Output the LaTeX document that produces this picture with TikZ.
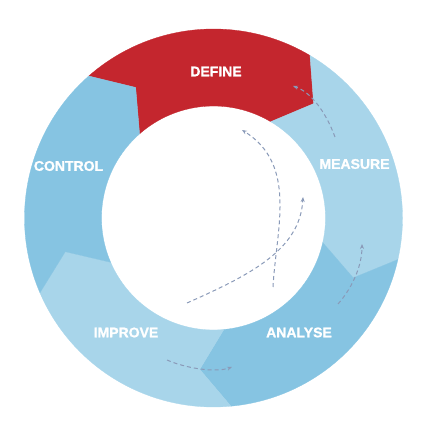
\documentclass[tikz,border=0pt]{standalone}
\usepackage{fontspec}
\setmainfont{Liberation Sans}
\newfontfamily\labelfont[BoldFeatures={FakeBold=1.2}]{Liberation Sans}
\usetikzlibrary{arrows.meta,calc}
\definecolor{defred}{RGB}{196,38,46}
\definecolor{lightblue}{RGB}{168,213,234}
\definecolor{midblue}{RGB}{134,196,226}
\definecolor{dashcol}{RGB}{138,154,184}
\tikzset{
  seglabel/.style={text=white, inner sep=0pt, font=\labelfont\bfseries\fontsize{14}{14}\selectfont},
  flow/.style={draw=dashcol, line width=1pt, dash pattern=on 4pt off 3pt, -{Stealth[length=5pt,width=4pt]}},
}
\begin{document}
\begin{tikzpicture}[x=1pt,y=1pt]
\useasboundingbox (0,0) rectangle (426,438);
\coordinate (C) at (213.5,220);
% segments: start angle a (counterclockwise end), colour
\foreach \a/\col in {131.3/defred, 59.3/lightblue, -12.7/midblue, -84.7/lightblue, -156.7/midblue}{
  \pgfmathsetmacro{\b}{\a-72}
  \pgfmathsetmacro{\bk}{\a-82.5}
  \pgfmathsetmacro{\ak}{\a-10.5}
  \fill[\col, draw=\col, line width=0.3pt]
    ($(C)+(\a:189pt)$) arc[start angle=\a, end angle=\b, radius=189pt]
    -- ($(C)+(\bk:152pt)$) -- ($(C)+(\b:112pt)$)
    arc[start angle=\b, end angle=\a, radius=112pt]
    -- ($(C)+(\ak:152pt)$) -- cycle;
}
% labels
\node[seglabel] (define) at (216,366.5) {DEFINE};
\node[seglabel] (measure) at (354.5,274) {MEASURE};
\node[seglabel] (analyse) at (299,105.5) {ANALYSE};
\node[seglabel] (improve) at (126,105.5) {IMPROVE};
\node[seglabel] (control) at (68.5,272) {CONTROL};
% dashed flow arrows
\coordinate (a0) at (273,151);
\coordinate (a1) at (242,308);
\draw[flow] (a0) .. controls (276,208) and (298,273) .. (a1);
\coordinate (b0) at (187,135);
\coordinate (b1) at (303,241);
\draw[flow] (b0) .. controls (250,163) and (300,188) .. (b1);
\coordinate (c0) at (335,301);
\coordinate (c1) at (293,352);
\draw[flow] (c0) .. controls (325,328) and (310,346) .. (c1);
\coordinate (d0) at (338,134);
\coordinate (d1) at (362,194);
\draw[flow] (d0) .. controls (353,151) and (362,173) .. (d1);
\coordinate (e0) at (167,78);
\coordinate (e1) at (232,71);
\draw[flow] (e0) .. controls (185,70) and (215,65) .. (e1);
\end{tikzpicture}
\end{document}
